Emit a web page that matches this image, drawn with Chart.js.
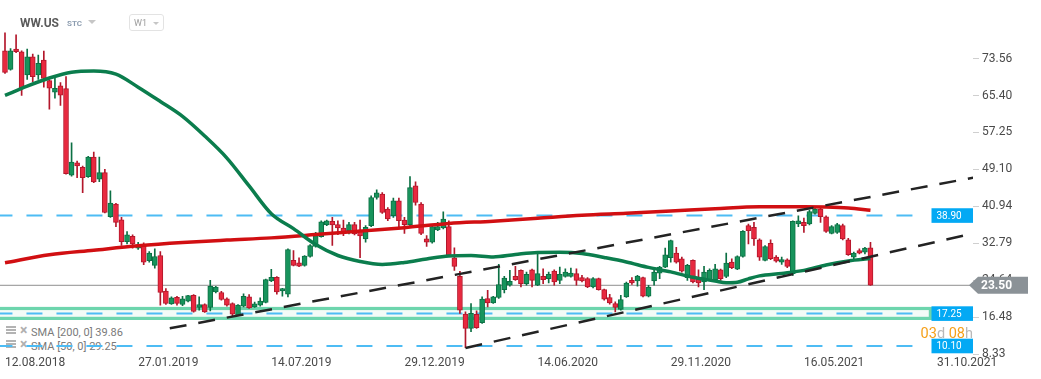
<!DOCTYPE html>
<html>
<head>
<meta charset="utf-8">
<script src="https://cdn.jsdelivr.net/npm/chart.js@4/dist/chart.umd.min.js"></script>
<style>
html,body{margin:0;padding:0;background:#fff;}
#wrap{position:relative;width:1041px;height:379px;overflow:hidden;font-family:Roboto,'Noto Sans',sans-serif;}
#c{position:absolute;left:0;top:0;z-index:2;}
.ov{position:absolute;white-space:nowrap;z-index:3;}
.lg{position:absolute;white-space:nowrap;z-index:1;font:11px/11px Roboto,sans-serif;color:#7a7a7a;}
.tri{position:absolute;width:0;height:0;border-left:4px solid transparent;border-right:4px solid transparent;border-top:4px solid #c6c6c6;z-index:3;}
.ico{position:absolute;width:10px;height:8px;z-index:1;
  background:linear-gradient(#b3b3b3 0 2px,transparent 2px 3px,#b3b3b3 3px 5px,transparent 5px 6px,#b3b3b3 6px 8px);}
.x{position:absolute;z-index:1;font:bold 14px/11px Roboto,sans-serif;color:#b0b0b0;}
</style>
</head>
<body>
<div id="wrap">
  <canvas id="c" width="1041" height="379"></canvas>
  <div class="ov" style="left:20px;top:17px;font:bold 12px/12px Roboto,sans-serif;color:#5b5b5b;">WW.US</div>
  <div class="ov" style="left:67px;top:20px;font:bold 8px/8px Roboto,sans-serif;color:#8d9db0;">STC</div>
  <div class="tri" style="left:88px;top:20px;"></div>
  <div class="ov" style="left:129px;top:14px;width:33px;height:15px;border:1px solid #e3e3e3;border-radius:3px;"></div>
  <div class="ov" style="left:134px;top:19px;font:9px/9px Roboto,sans-serif;color:#9c9c9c;">W1</div>
  <div class="tri" style="left:153px;top:22px;border-left-width:3.5px;border-right-width:3.5px;border-top-width:3.5px;"></div>

  <div class="ico" style="left:6px;top:326px;"></div><div class="x" style="left:20px;top:325px;">×</div>
  <div class="lg" style="left:31px;top:326.7px;">SMA [200, 0] 39.86</div>
  <div class="ico" style="left:6px;top:340px;"></div><div class="x" style="left:20px;top:339px;">×</div>
  <div class="lg" style="left:31px;top:340.7px;">SMA [50, 0] 29.25</div>

  <div class="ov" style="right:68px;top:326px;font:14.5px/15px Roboto,sans-serif;"><span style="color:#f5a01a">03</span><span style="color:#b8b8b8">d</span> <span style="color:#f5a01a">08</span><span style="color:#b8b8b8">h</span></div>
</div>
<script>
// ---------- data ----------
const xTickWeeks  = [0, 24, 48, 72, 96, 120, 144, 168];
const xTickLabels = ['12.08.2018','27.01.2019','14.07.2019','29.12.2019','14.06.2020','29.11.2020','16.05.2021','31.10.2021'];
const yTickValues = [73.56, 65.40, 57.25, 49.10, 40.94, 32.79, 24.64, 16.48, 8.33];

const open = [
 75.28,71.18,75.65,75.06,69.95,73.96,69.95,73.24,68.70,66.13,
 67.53,66.94,47.79,50.55,49.54,47.48,51.80,46.91,48.36,38.64,
 41.43,37.98,33.15,34.32,31.68,32.43,28.92,27.89,30.08,22.25,
 19.40,20.87,19.26,19.99,21.31,18.61,19.26,18.61,22.03,21.90,
 20.50,19.48,16.92,18.89,20.93,18.74,19.11,19.70,24.45,25.26,
 22.25,21.53,28.99,28.48,27.89,29.86,32.06,34.25,36.82,37.61,
 36.89,36.16,35.57,36.89,35.72,33.75,36.67,42.88,43.62,40.33,
 38.86,42.15,37.92,36.89,45.44,41.43,33.75,33.00,35.72,36.16,
 36.45,29.58,25.48,17.14,14.00,17.07,15.23,20.59,19.62,20.80,
 22.56,23.50,25.48,26.79,23.87,26.94,23.50,25.48,24.97,26.64,
 24.60,25.48,25.48,26.07,25.19,24.97,23.13,24.97,22.56,20.80,
 19.48,18.17,20.93,24.60,24.45,25.19,21.09,24.45,26.20,27.52,
 29.58,30.59,29.36,25.19,28.99,25.19,24.23,24.75,24.75,26.94,
 25.48,28.61,27.08,29.86,36.67,36.30,33.53,28.99,32.78,29.71,
 28.61,29.14,26.07,37.04,37.39,37.04,39.36,40.33,38.64,34.97,
 35.20,36.67,33.53,29.71,31.18,30.81,31.77];
const high = [
 79.23,75.78,78.79,75.28,75.65,74.55,74.34,75.21,68.85,69.58,
 68.26,69.58,54.94,50.93,49.83,52.00,52.90,51.80,49.10,44.35,
 41.60,38.49,35.35,34.62,33.00,32.87,30.96,31.55,30.96,22.77,
 20.93,21.09,21.09,21.31,21.46,20.93,19.40,24.60,23.28,22.19,
 20.71,19.62,19.26,21.59,21.46,19.77,20.71,24.88,27.01,25.40,
 22.85,31.55,31.18,29.58,30.08,32.50,35.20,37.76,37.90,38.49,
 37.76,37.92,37.39,37.39,37.92,36.67,43.25,44.56,43.97,40.68,
 42.74,42.74,38.49,47.48,46.32,41.78,34.47,36.67,37.39,39.74,
 37.76,31.77,26.57,17.64,19.49,17.86,20.93,22.41,21.09,28.11,
 25.48,26.79,27.67,26.90,26.42,27.10,30.81,27.16,26.42,26.94,
 27.52,27.16,27.30,27.16,25.69,25.19,25.19,25.10,22.69,21.53,
 19.84,21.31,24.23,25.19,25.69,25.32,23.50,26.79,27.67,31.69,
 33.50,31.90,29.71,28.11,29.10,26.94,27.67,27.16,28.11,27.10,
 30.59,29.36,30.00,35.57,37.04,37.39,33.75,32.28,33.53,30.08,
 29.71,29.36,37.76,38.86,38.35,40.11,40.68,40.68,38.86,36.67,
 37.17,37.04,33.88,30.81,31.55,31.90,33.00];
const low = [
 70.30,71.00,74.84,65.41,68.98,68.48,68.98,67.23,62.40,64.81,
 63.21,48.01,47.60,47.26,43.97,47.30,46.17,46.39,39.50,38.50,
 36.45,32.28,32.65,31.68,31.40,28.04,28.61,27.30,19.11,19.26,
 19.26,19.11,19.00,19.84,17.58,18.02,17.51,17.86,21.81,20.21,
 18.89,16.55,16.77,18.74,18.39,18.61,18.89,19.62,24.31,21.53,
 21.09,20.93,27.80,27.60,27.74,29.71,31.90,34.10,36.67,32.28,
 34.69,34.47,34.84,34.62,29.58,33.00,36.45,42.52,39.36,37.76,
 38.49,36.45,34.97,36.67,41.21,34.69,32.06,32.78,35.57,35.94,
 29.86,26.79,17.29,9.75,13.25,14.00,15.10,18.74,19.49,20.59,
 21.81,23.28,24.60,23.13,23.50,23.13,23.40,23.87,24.01,23.50,
 23.87,25.32,25.32,23.50,24.23,23.00,22.91,22.41,20.21,19.33,
 17.64,18.02,20.80,23.72,23.28,20.93,20.93,23.50,24.97,27.38,
 28.61,28.40,26.42,24.60,24.01,23.13,22.56,24.60,24.60,24.60,
 25.19,27.16,26.94,29.71,32.65,32.28,28.99,28.90,29.14,28.61,
 28.11,27.38,25.69,36.45,35.20,36.82,39.23,37.39,35.20,34.84,
 34.97,33.53,30.08,28.99,30.45,30.45,23.45];
const close = [
 70.52,75.28,75.06,67.16,73.96,69.58,72.49,69.20,67.01,67.01,
 65.47,48.14,50.71,49.83,47.26,51.80,46.32,48.36,39.58,41.65,
 37.39,33.15,34.62,32.65,32.43,28.61,30.59,29.86,21.90,19.48,
 20.71,19.48,20.50,21.24,17.73,19.26,17.64,23.28,23.13,20.37,
 19.11,17.14,19.11,21.09,18.52,19.40,19.99,24.75,25.26,22.03,
 22.77,31.40,27.89,27.74,29.93,32.28,34.47,37.54,37.76,36.82,
 36.16,34.97,36.89,34.84,34.41,36.30,42.88,43.91,39.58,38.14,
 42.15,37.76,36.89,45.07,41.78,34.97,33.00,36.45,36.45,38.14,
 30.08,27.67,18.02,14.00,17.29,14.13,20.43,19.62,20.93,23.65,
 25.10,24.38,24.75,23.87,25.91,24.60,26.07,24.75,25.91,24.23,
 25.91,26.42,26.20,24.60,24.45,23.13,24.97,22.56,20.43,19.62,
 18.61,20.37,24.01,24.01,25.54,21.09,23.13,26.42,27.52,30.24,
 33.38,28.61,26.64,27.89,24.23,24.01,26.42,26.79,27.16,24.97,
 28.40,27.38,29.86,35.42,35.57,33.75,29.71,32.06,29.36,28.83,
 29.20,27.67,37.61,37.76,36.67,39.80,40.33,38.64,35.42,36.45,
 36.89,33.75,30.24,30.59,30.59,31.69,23.50];

const sma200Weeks = [0,8,16,24,32,40,48,56,64,72,80,88,96,104,112,120,128,136,144,148,152,156];
const sma200      = [28.48,30.24,31.24,32.21,32.93,33.48,33.97,34.69,35.46,36.23,37.17,37.65,38.31,38.97,39.41,39.89,40.40,40.83,40.83,40.77,40.55,40.05];
const sma50Weeks  = [0,4,8,12,16,20,24,28,32,36,40,44,48,52,56,60,64,68,72,76,80,84,88,92,96,100,104,108,112,116,120,124,128,130,132,134,136,140,144,148,152,156];
const sma50       = [65.41,67.47,69.27,70.56,70.83,70.12,67.25,64.09,60.80,56.46,51.59,45.44,39.30,36.01,32.50,30.08,28.77,28.11,28.55,29.32,29.97,30.08,29.75,30.30,30.74,30.78,30.52,29.64,28.66,27.45,26.46,25.26,24.45,24.05,24.16,24.93,25.58,26.13,26.79,28.00,28.88,29.40];

const trendUpper = [[29.7, 14.00], [174.5, 47.26]];
const trendLower = [[83.0, 9.65], [174.5, 34.93]];
const levels     = [38.90, 17.25, 10.10];
const zone       = [16.19, 18.38];
const lastPrice  = 23.50;

// ---------- layout constants ----------
const X_MIN = -0.9, X_MAX = 174.48, Y_MIN = 8.33, Y_MAX = 84.24;
const LEVEL_END = 164.6, ZONE_END = 166.8, BOX_START = 167.0;

Chart.defaults.font.family = 'Roboto, sans-serif';

const N = open.length;
const idx = Array.from({length: N}, (_, i) => i);
const up = idx.map(i => close[i] >= open[i]);
const RED = '#e8293f', RED_D = '#b3172b', GRN = '#17945c', GRN_D = '#0c7044';

const wicks = {
  type: 'bar', order: 15, grouped: false, barThickness: 1, borderWidth: 0,
  data: idx.map(i => ({x: i, y: [low[i], high[i]]})),
  backgroundColor: idx.map(i => up[i] ? GRN_D : RED_D)
};
const bodies = {
  type: 'bar', order: 14, grouped: false, barThickness: 5, borderWidth: 1, borderSkipped: false, minBarLength: 1.5,
  data: idx.map(i => ({x: i, y: [Math.min(open[i], close[i]), Math.max(open[i], close[i])]})),
  backgroundColor: idx.map(i => up[i] ? GRN : RED),
  borderColor: idx.map(i => up[i] ? GRN_D : RED_D)
};
function lineDs(points, color, width, order, extra) {
  return Object.assign({type: 'line', data: points, borderColor: color, borderWidth: width,
    pointRadius: 0, fill: false, tension: 0, order: order}, extra || {});
}
const datasets = [
  wicks, bodies,
  lineDs(sma200Weeks.map((w, k) => ({x: w, y: sma200[k]})), '#d10f12', 3.5, 6, {cubicInterpolationMode: 'monotone'}),
  lineDs(sma50Weeks.map((w, k) => ({x: w, y: sma50[k]})), '#0b7d4d', 3.5, 5, {cubicInterpolationMode: 'monotone'}),
  lineDs(trendUpper.map(p => ({x: p[0], y: p[1]})), '#232323', 2.5, 3, {borderDash: [17, 12]}),
  lineDs(trendLower.map(p => ({x: p[0], y: p[1]})), '#232323', 2.5, 3, {borderDash: [17, 12]}),
  lineDs([{x: X_MIN - 1, y: lastPrice}, {x: X_MAX, y: lastPrice}], '#8e8e8e', 1, 19),
  ...levels.map(v => lineDs([{x: X_MIN - 1, y: v}, {x: LEVEL_END, y: v}], '#4dbcf4', 2, 20,
      {borderDash: [16, 14], borderDashOffset: 28}))
];

const overlay = {
  id: 'overlay',
  beforeDatasetsDraw(chart) {
    const {ctx, chartArea: a, scales: {x, y}} = chart;
    const t = y.getPixelForValue(zone[1]), b = y.getPixelForValue(zone[0]);
    const r = x.getPixelForValue(ZONE_END);
    ctx.save();
    ctx.fillStyle = '#f3fbf7';
    ctx.fillRect(a.left, t, r - a.left, b - t);
    ctx.strokeStyle = '#6dd5ad';
    ctx.lineWidth = 3.2;
    ctx.strokeRect(a.left - 5, t, r - a.left + 5, b - t);
    ctx.restore();
  },
  afterDraw(chart) {
    const {ctx, chartArea: a, scales: {x, y}} = chart;
    ctx.save();
    const l = x.getPixelForValue(BOX_START);
    levels.forEach(v => {
      const cy = y.getPixelForValue(v);
      ctx.fillStyle = '#03a9f4';
      ctx.fillRect(l, cy - 7.3, a.right - l, 14.6);
      ctx.fillStyle = '#ffffff';
      ctx.font = '10px Roboto, sans-serif';
      ctx.textAlign = 'left';
      ctx.textBaseline = 'middle';
      ctx.fillText(v.toFixed(2), l + 5, cy + 0.5);
    });
    const cy = y.getPixelForValue(lastPrice);
    const tip = a.right - 4;
    ctx.fillStyle = '#8b9297';
    ctx.beginPath();
    ctx.moveTo(tip, cy);
    ctx.lineTo(tip + 9, cy - 8.5);
    ctx.lineTo(a.right + 55, cy - 8.5);
    ctx.lineTo(a.right + 55, cy + 8.5);
    ctx.lineTo(tip + 9, cy + 8.5);
    ctx.closePath();
    ctx.fill();
    ctx.fillStyle = '#ffffff';
    ctx.font = 'bold 12px Roboto, sans-serif';
    ctx.textAlign = 'left';
    ctx.textBaseline = 'middle';
    ctx.fillText(lastPrice.toFixed(2), a.right + 8, cy + 0.5);
    ctx.restore();
  }
};

new Chart(document.getElementById('c'), {
  type: 'bar',
  data: {datasets},
  options: {
    responsive: false, animation: false, devicePixelRatio: 1, events: [],
    layout: {padding: 0, autoPadding: false},
    plugins: {legend: {display: false}, tooltip: {enabled: false}},
    scales: {
      x: {
        type: 'linear', min: X_MIN, max: X_MAX, offset: false, bounds: 'data',
        afterBuildTicks: s => { s.ticks = xTickWeeks.map(v => ({value: v})); },
        afterFit: s => { s.height = 25; },
        grid: {display: false, drawTicks: false}, border: {display: false},
        ticks: {align: 'start', padding: 2, autoSkip: false, maxRotation: 0, minRotation: 0,
          color: '#4a4a4a', font: {size: 12},
          callback: v => { const k = xTickWeeks.indexOf(v); return k >= 0 ? xTickLabels[k] : ''; }}
      },
      y: {
        type: 'linear', position: 'right', min: Y_MIN, max: Y_MAX, bounds: 'data',
        afterBuildTicks: s => { s.ticks = yTickValues.map(v => ({value: v})); },
        afterFit: s => { s.width = 68; },
        grid: {drawOnChartArea: false, drawTicks: true, tickLength: 6, tickColor: '#cfcfcf'},
        border: {display: false},
        ticks: {padding: 3, color: '#4a4a4a', font: {size: 12}, callback: v => Number(v).toFixed(2)}
      }
    }
  },
  plugins: [overlay]
});
</script>
</body>
</html>
